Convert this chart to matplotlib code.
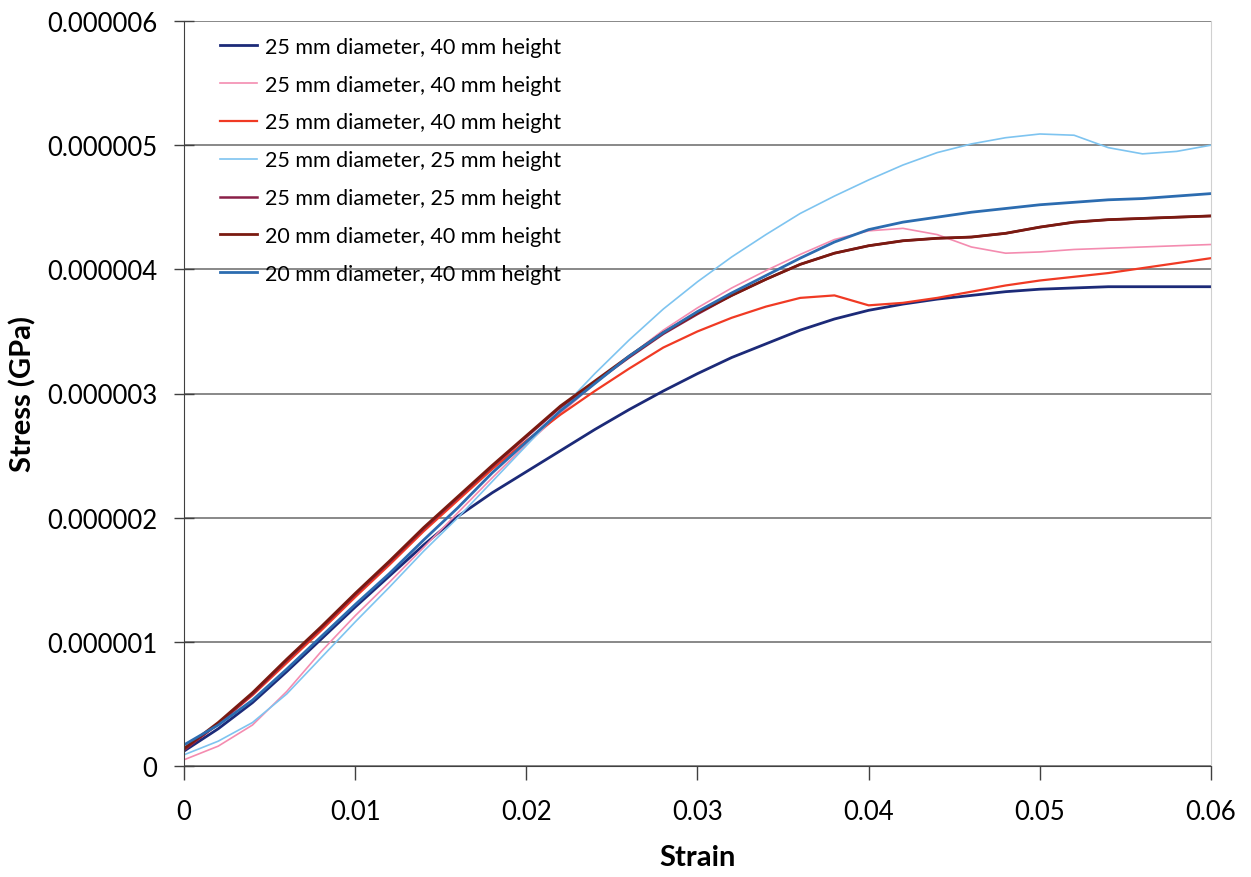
import numpy as np
import matplotlib
matplotlib.use("Agg")
import matplotlib.pyplot as plt

plt.rcParams['font.family'] = ['Lato', 'DejaVu Sans']

# strain readings (common grid) and stress in units of 1e-6 GPa
strain = [0.000, 0.002, 0.004, 0.006, 0.008, 0.010, 0.012, 0.014, 0.016, 0.018,
          0.020, 0.022, 0.024, 0.026, 0.028, 0.030, 0.032, 0.034, 0.036, 0.038,
          0.040, 0.042, 0.044, 0.046, 0.048, 0.050, 0.052, 0.054, 0.056, 0.058,
          0.060]

d25_h40_a = [0.12, 0.30, 0.51, 0.76, 1.02, 1.28, 1.53, 1.78, 2.01, 2.20,
             2.37, 2.54, 2.71, 2.87, 3.02, 3.16, 3.29, 3.40, 3.51, 3.60,
             3.67, 3.72, 3.76, 3.79, 3.82, 3.84, 3.85, 3.86, 3.86, 3.86,
             3.86]
d25_h40_b = [0.05, 0.16, 0.33, 0.60, 0.92, 1.21, 1.48, 1.76, 2.04, 2.32,
             2.59, 2.84, 3.08, 3.30, 3.51, 3.69, 3.85, 3.99, 4.12, 4.24,
             4.31, 4.33, 4.28, 4.18, 4.13, 4.14, 4.16, 4.17, 4.18, 4.19,
             4.20]
d25_h40_c = [0.13, 0.34, 0.57, 0.83, 1.09, 1.36, 1.62, 1.89, 2.14, 2.39,
             2.62, 2.83, 3.02, 3.20, 3.37, 3.50, 3.61, 3.70, 3.77, 3.79,
             3.71, 3.73, 3.77, 3.82, 3.87, 3.91, 3.94, 3.97, 4.01, 4.05,
             4.09]
d25_h25_a = [0.09, 0.20, 0.35, 0.58, 0.87, 1.16, 1.44, 1.73, 2.00, 2.29,
             2.58, 2.87, 3.16, 3.43, 3.68, 3.90, 4.10, 4.28, 4.45, 4.59,
             4.72, 4.84, 4.94, 5.01, 5.06, 5.09, 5.08, 4.98, 4.93, 4.95,
             5.00]
d25_h25_b = [0.13, 0.34, 0.58, 0.85, 1.11, 1.38, 1.64, 1.91, 2.16, 2.41,
             2.65, 2.89, 3.09, 3.29, 3.48, 3.64, 3.79, 3.92, 4.04, 4.13,
             4.19, 4.23, 4.25, 4.26, 4.29, 4.34, 4.38, 4.40, 4.41, 4.42,
             4.43]
d20_h40_a = [0.14, 0.35, 0.59, 0.86, 1.12, 1.39, 1.65, 1.92, 2.17, 2.42,
             2.66, 2.90, 3.10, 3.30, 3.49, 3.65, 3.79, 3.92, 4.04, 4.13,
             4.19, 4.23, 4.25, 4.26, 4.29, 4.34, 4.38, 4.40, 4.41, 4.42,
             4.43]
d20_h40_b = [0.17, 0.33, 0.53, 0.78, 1.04, 1.30, 1.55, 1.82, 2.08, 2.36,
             2.61, 2.86, 3.08, 3.30, 3.49, 3.66, 3.81, 3.95, 4.09, 4.22,
             4.32, 4.38, 4.42, 4.46, 4.49, 4.52, 4.54, 4.56, 4.57, 4.59,
             4.61]

labels = ["25 mm diameter, 40 mm height", "25 mm diameter, 40 mm height",
          "25 mm diameter, 40 mm height", "25 mm diameter, 25 mm height",
          "25 mm diameter, 25 mm height", "20 mm diameter, 40 mm height",
          "20 mm diameter, 40 mm height"]
series = [d25_h40_a, d25_h40_b, d25_h40_c, d25_h25_a, d25_h25_b, d20_h40_a, d20_h40_b]
colors = ['#1c2a78', '#f48cb0', '#f03a24', '#7ec4f0', '#8a2048', '#7a1a10', '#2c6cb0']
widths = [2.0, 1.2, 1.6, 1.2, 1.8, 2.0, 2.0]

fig = plt.figure(figsize=(12.51, 8.78), dpi=100)
ax = fig.add_axes([184 / 1251, 1 - 767 / 878, (1211 - 184) / 1251, (767 - 22) / 878])

x = np.array(strain)
for vals, lab, c, lw in zip(series, labels, colors, widths):
    ax.plot(x, np.array(vals) * 1e-6, color=c, lw=lw, label=lab)

ax.set_xlim(0, 0.06)
ax.set_ylim(0, 6e-6)
ax.set_xticks(np.arange(0, 0.061, 0.01))
ax.set_xticklabels(['0', '0.01', '0.02', '0.03', '0.04', '0.05', '0.06'])
ax.set_yticks(np.arange(0, 6.1e-6, 1e-6))
ax.set_yticklabels(['0', '0.000001', '0.000002', '0.000003', '0.000004',
                    '0.000005', '0.000006'])
ax.yaxis.grid(True, color='#686868', lw=1.1)
ax.set_axisbelow(True)

ax.spines['top'].set_visible(False)
ax.spines['right'].set_color('#d0d0d0')
ax.spines['left'].set_color('#404040')
ax.spines['bottom'].set_color('#404040')
ax.tick_params(axis='y', direction='inout', length=14, width=1, colors='#404040',
               labelcolor='black', labelsize=18.5, pad=12)
ax.tick_params(axis='x', direction='out', length=10, width=1, colors='#404040',
               labelcolor='black', labelsize=18.5, pad=14)

ax.set_xlabel('Strain', fontsize=21, fontweight='bold', labelpad=14)
ax.set_ylabel('Stress (GPa)', fontsize=21, fontweight='bold', labelpad=8)

ax.legend(loc='upper left', bbox_to_anchor=(0.016, 1.005), frameon=False, fontsize=15.5,
          handlelength=1.75, labelspacing=0.83, handletextpad=0.33)

fig.savefig('out.png', dpi=100)
